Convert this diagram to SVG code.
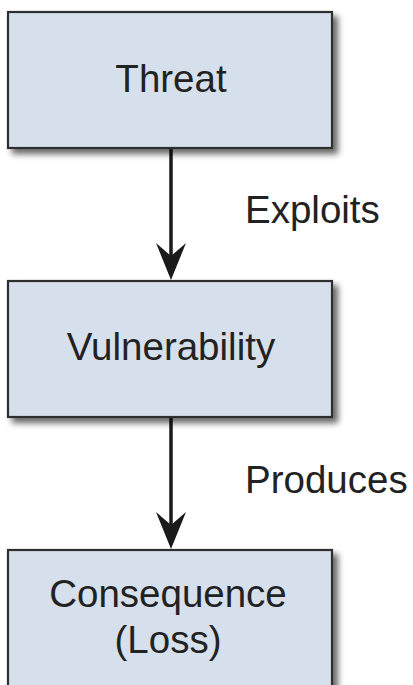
<svg xmlns="http://www.w3.org/2000/svg" width="413" height="685" viewBox="0 0 413 685">
  <style>
    .box { fill: #d6e0ec; stroke: #2e2e2e; stroke-width: 2.2; }
    .lbl { font-family: "Liberation Sans", Arial, sans-serif; font-size: 38.5px; fill: #222222; }
    .conn { stroke: #1a1a1a; stroke-width: 3.5; fill: none; }
    .head { fill: #1a1a1a; }
  </style>
  <defs>
    <filter id="shadow" x="-10%" y="-10%" width="125%" height="130%">
      <feGaussianBlur in="SourceAlpha" stdDeviation="3"/>
      <feOffset dx="5" dy="5" result="b"/>
      <feComponentTransfer><feFuncA type="linear" slope="0.6"/></feComponentTransfer>
      <feMerge><feMergeNode/><feMergeNode in="SourceGraphic"/></feMerge>
    </filter>
  </defs>
  <rect width="413" height="685" fill="#ffffff"/>
  <g id="connectors">
    <line class="conn" x1="171" y1="148" x2="171" y2="260"/>
    <polygon class="head" points="171,280 156,243 171,256 186,243"/>
    <line class="conn" x1="171" y1="417" x2="171" y2="530"/>
    <polygon class="head" points="171,549 156,512 171,525 186,512"/>
    <text class="lbl" x="245" y="223">Exploits</text>
    <text class="lbl" x="245" y="493">Produces</text>
  </g>
  <g id="threat">
    <rect class="box" x="8" y="12" width="324" height="136" filter="url(#shadow)"/>
    <text class="lbl" x="171" y="92" text-anchor="middle">Threat</text>
  </g>
  <g id="vulnerability">
    <rect class="box" x="8" y="281" width="324" height="136" filter="url(#shadow)"/>
    <text class="lbl" x="171" y="360" text-anchor="middle">Vulnerability</text>
  </g>
  <g id="consequence">
    <rect class="box" x="8" y="550" width="324" height="160" filter="url(#shadow)"/>
    <text class="lbl" x="168" y="607" text-anchor="middle">Consequence</text>
    <text class="lbl" x="168" y="653" text-anchor="middle">(Loss)</text>
  </g>
</svg>
